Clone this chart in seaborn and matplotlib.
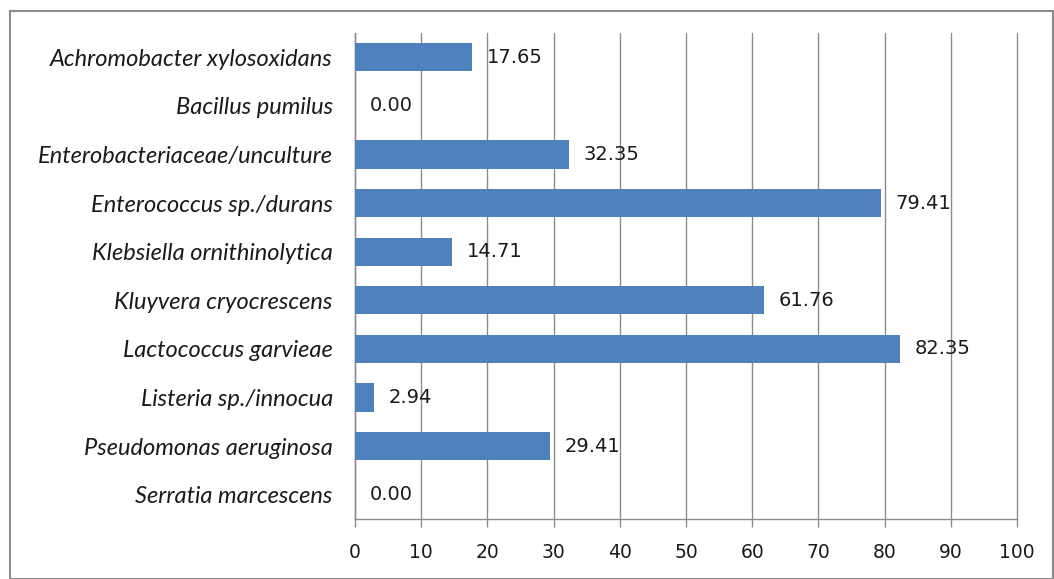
import matplotlib
matplotlib.use("Agg")
import matplotlib.pyplot as plt
import seaborn as sns
import pandas as pd
from matplotlib.patches import Rectangle

species = [
    "Achromobacter xylosoxidans",
    "Bacillus pumilus",
    "Enterobacteriaceae/unculture",
    "Enterococcus sp./durans",
    "Klebsiella ornithinolytica",
    "Kluyvera cryocrescens",
    "Lactococcus garvieae",
    "Listeria sp./innocua",
    "Pseudomonas aeruginosa",
    "Serratia marcescens",
]
values = [17.65, 0.00, 32.35, 79.41, 14.71, 61.76, 82.35, 2.94, 29.41, 0.00]
x_ticks = [0, 10, 20, 30, 40, 50, 60, 70, 80, 90, 100]

df = pd.DataFrame({"species": species, "value": values})

sns.set_theme(style="white")
plt.rcParams["font.family"] = ["DejaVu Sans"]

fig = plt.figure(figsize=(10.54, 5.79), dpi=100)
ax = fig.add_axes([0.3368, 0.1036, 0.6281, 0.8394])

grid_c = "#8c8c8c"
text_c = "#1a1a1a"
sns.barplot(data=df, x="value", y="species", orient="h", color="#4F81BD",
            saturation=1, width=0.58, linewidth=0, ax=ax, zorder=3)

ax.set_xlim(0, 100)
ax.set_xticks(x_ticks)
ax.set_xticklabels([str(t) for t in x_ticks], fontsize=13.5, color=text_c,
                   family="DejaVu Sans")
ax.xaxis.grid(True, color=grid_c, linewidth=1.0, zorder=0)
for gl in ax.get_xgridlines():
    gl.set_clip_on(False)
ax.yaxis.grid(False)
ax.set_axisbelow(True)
ax.set_xlabel("")
ax.set_ylabel("")

for s in ["top", "right"]:
    ax.spines[s].set_visible(False)
for s in ["left", "bottom"]:
    ax.spines[s].set_color(grid_c)
    ax.spines[s].set_linewidth(1.0)

ax.tick_params(axis="x", bottom=True, length=6, width=1.0, color=grid_c, pad=11)
ax.tick_params(axis="y", left=False, pad=10)
for lbl in ax.get_yticklabels():
    lbl.set_fontstyle("italic")
    lbl.set_fontsize(17)
    lbl.set_family("Lato")
    lbl.set_color(text_c)

for i, v in enumerate(values):
    ax.text(v + 2.2, i, f"{v:.2f}", va="center", ha="left", fontsize=14,
            color=text_c, family="DejaVu Sans", zorder=4)

fig.patches.append(Rectangle((0.0095, 0.0), 0.99, 0.981, transform=fig.transFigure,
                             fill=False, edgecolor="#8c8c8c", linewidth=1.5))

fig.savefig("out.png", dpi=100)
